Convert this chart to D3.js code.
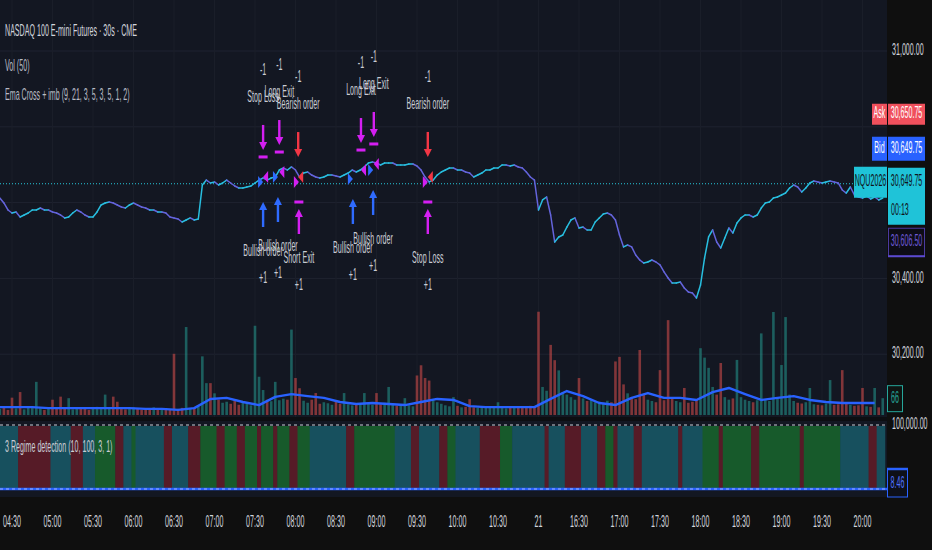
<!DOCTYPE html>
<html>
<head>
<meta charset="utf-8">
<script src="https://cdn.jsdelivr.net/npm/d3@7"></script>
<style>
  body { margin: 0; background: #0f0f0f; overflow: hidden; }
  svg { display: block; }
  text { font-family: "Liberation Sans", Arial, sans-serif; }
</style>
</head>
<body>
<div id="chart"></div>
<script>
// ---- data (30s bars, one sample every 6 bars = 3 min) ----
var timeLabels = ["04:30","05:00","05:30","06:00","06:30","07:00","07:30","08:00","08:30","09:00","09:30","10:00",
  "10:30","21","16:30","17:00","17:30","18:00","18:30","19:00","19:30","20:00"];

var closes = [
  30612.00,30599.00,30580.50,30572.50,30575.25,30562.00,30567.25,30572.50,30580.50,30580.50,
  30585.75,30580.50,30580.50,30575.25,30572.50,30567.25,30559.50,30562.00,30572.50,30580.50,
  30575.25,30567.25,30562.00,30562.00,30575.25,30593.75,30599.00,30601.50,30599.00,30593.75,
  30588.50,30585.75,30593.75,30599.00,30593.75,30588.50,30585.75,30580.50,30580.50,30575.25,
  30575.25,30572.50,30562.00,30559.50,30556.75,30548.75,30554.00,30559.50,30554.00,30556.75,
  30646.50,30659.50,30651.75,30654.50,30646.50,30651.75,30659.50,30651.75,30643.75,30638.50,
  30638.50,30641.25,30643.75,30651.75,30659.50,30665.00,30659.50,30665.00,30667.50,30686.00,
  30691.25,30686.00,30694.00,30686.00,30667.50,30678.00,30680.75,30672.75,30667.50,30665.00,
  30667.50,30672.75,30672.75,30670.25,30667.50,30672.75,30678.00,30686.00,30680.75,30686.00,
  30694.00,30704.50,30707.00,30704.50,30699.25,30704.50,30704.50,30704.50,30699.25,30699.25,
  30699.25,30701.75,30701.75,30696.50,30686.00,30667.50,30654.50,30659.50,30672.75,30680.75,
  30686.00,30691.25,30691.25,30686.00,30686.00,30680.75,30678.00,30667.50,30672.75,30678.00,
  30686.00,30686.00,30691.25,30691.25,30699.25,30699.25,30696.50,30699.25,30694.00,30691.25,
  30680.75,30667.50,30659.50,30580.50,30607.00,30614.75,30567.25,30496.00,30509.25,30514.50,
  30535.50,30554.00,30559.50,30533.00,30535.50,30527.75,30527.75,30548.75,30559.50,30570.00,
  30572.50,30567.25,30554.00,30514.50,30483.00,30488.00,30483.00,30461.75,30448.50,30440.50,
  30443.25,30448.50,30443.25,30435.50,30417.00,30401.00,30388.00,30388.00,30390.50,30374.75,
  30364.00,30361.50,30348.25,30382.50,30453.75,30509.25,30527.75,30496.00,30480.25,30506.50,
  30533.00,30519.75,30546.25,30559.50,30567.25,30567.25,30562.00,30567.25,30585.75,30599.00,
  30601.50,30612.00,30614.75,30620.00,30625.25,30638.50,30646.50,30641.25,30628.00,30638.50,
  30651.75,30657.00,30654.50,30651.75,30654.50,30657.00,30654.50,30651.75,30633.25,30625.25,
  30641.25,30620.00,30614.75,30612.00,30617.50,30609.50,30614.75,30607.00,30612.00];

var volumes = [
  24,30,20,68,26,90,22,28,34,130, 26,20,30,60,24,72,28,66,22,26,
  30,24,20,28,32,26,80,30,72,52, 26,22,28,30,24,20,26,22,30,24,
  20,26,22,240,24,28,345,26,30,34, 230,125,125,85,60,48,52,44,56,40,
  50,46,38,350,150,98,60,54,130,58, 64,60,335,145,105,56,48,60,86,44,
  50,46,40,52,44,86,42,38,46,40, 86,44,40,86,42,48,110,40,36,42,
  66,38,34,155,195,145,135,60,50,44, 38,34,70,36,30,32,62,30,28,34,
  32,30,28,50,30,26,32,30,28,34, 30,36,32,405,110,95,275,215,175,90,
  80,70,60,145,65,55,60,50,52,48, 56,50,210,228,120,85,70,62,255,80,
  60,55,50,176,58,372,70,55,50,106, 48,52,60,262,225,185,110,80,204,70,
  60,65,216,70,60,55,50,58,320,60, 55,404,70,196,384,80,55,48,45,50,
  106,42,40,38,45,137,40,42,176,48, 40,36,38,106,34,32,106,30,66];

// volume MA, one value every 4 samples
var volMA = [31,31,31,27,27,27,27,27,27,24, 24,20,27,63,67,51,39,71,82,74,
  67,51,43,47,43,39,51,63,59,35, 31,31,31,31,63,94,74,47,39,67,
  86,67,67,59,90,106,82,59,67,74, 59,51,47,47,47];

// regime runs: first sample of each run, state 0 = neutral, 1 = bear, 2 = bull
var regimeStart = [0,5,13,18,21,24,29,31,33,34,41,43,47,50,54,56,59,61,64,65,68,69,72,74,77,86,88,98,
  102,104,109,111,113,119,124,127,135,136,140,144,148,150,152,153,157,159,168,169,174,178,179,186,188,198,199,208,215,217];
var regimeState = [0,1,0,1,0,2,1,0,2,0,1,0,1,2,1,2,1,2,1,2,1,2,1,2,0,1,2,0,
  1,0,1,2,0,1,2,0,1,0,1,0,1,2,1,0,1,0,1,0,2,1,2,1,2,1,2,0,1,0];

// strategy orders
var sigBar   = [372, 396, 424, 517, 536, 616, 372, 394, 425, 505, 535, 616];
var sigPrice = [30683.50, 30696.50, 30683.25, 30701.75, 30717.75, 30683.50,
                30638.50, 30651.75, 30638.50, 30646.50, 30670.25, 30638.50];
var sigName  = ["Stop Loss","Long Exit","Bearish order","Long Exit","Long Exit","Bearish order",
                "Bullish order","Bullish order","Short Exit","Bullish order","Bullish order","Stop Loss"];
var sigSide  = ["sell","sell","sell","sell","sell","sell","buy","buy","buy","buy","buy","buy"];

var priceGrid = [31000, 30800, 30600, 30400, 30200];
var priceTickLabels = [31000, 30400, 30200];
var lastPrice = 30649.75, askPrice = 30650.75, bidPrice = 30649.75, emaPrice = 30606.50;
var lastVolume = 66, regimeValue = 8.46;

// ---- layout ----
var W = 932, H = 550, plotR = 887;
var FS = "16px";
var fmt = d3.format(",.2f");

var svg = d3.select("#chart").append("svg").attr("width", W).attr("height", H);
svg.append("rect").attr("width", W).attr("height", H).attr("fill", "#0f0f0f");
svg.append("rect").attr("x", 0).attr("y", 0).attr("width", plotR).attr("height", 417).attr("fill", "#131722");
svg.append("rect").attr("x", 0).attr("y", 421).attr("width", plotR).attr("height", 76).attr("fill", "#131722");

// the screenshot text is tall and narrow: squeeze it horizontally
var probe = svg.append("text").attr("font-size", FS).text("NASDAQ 100 E-mini Futures · 30s · CME");
var SX = 132 / probe.node().getComputedTextLength();
probe.remove();

function label(parent, x0, y0, str, fill, anchor) {
  var g = parent.append("g").attr("transform", "translate(" + x0 + "," + y0 + ") scale(" + SX + ",1)");
  g.append("text").attr("text-anchor", anchor || "start").attr("dominant-baseline", "middle")
    .attr("font-size", FS).attr("fill", fill).text(str);
  return g;
}

var x = d3.scaleLinear().domain([0, 1260]).range([12, 862.5]);
var y = d3.scaleLinear().domain([30200, 31000]).range([354.2, 51]);
var vy = d3.scaleLinear().domain([0, 400]).range([415, 313]);
var barOf = function(i) { return -18 + 6 * i; };
var step = x(6) - x(0);

// grid
svg.append("g").selectAll("line").data(priceGrid).enter().append("line")
  .attr("x1", 0).attr("x2", plotR).attr("y1", function(d){ return y(d); }).attr("y2", function(d){ return y(d); })
  .attr("stroke", "#1f2330").attr("stroke-width", 1);
svg.append("g").selectAll("line").data(timeLabels).enter().append("line")
  .attr("x1", function(d,i){ return x(i*60); }).attr("x2", function(d,i){ return x(i*60); })
  .attr("y1", 0).attr("y2", 417).attr("stroke", "#1a1e29").attr("stroke-width", 1);

// volume bars
svg.append("g").selectAll("rect").data(volumes).enter().append("rect")
  .attr("x", function(d,i){ return x(barOf(i)) - 1.3; })
  .attr("width", 2.6)
  .attr("y", function(d){ return vy(d); })
  .attr("height", function(d){ return vy(0) - vy(d); })
  .attr("fill", function(d,i){ return (i === 0 || closes[i] >= closes[i-1]) ? "#26a69a" : "#ef5350"; })
  .attr("opacity", 0.5);

// volume MA
var maLine = d3.line().x(function(d,k){ return x(barOf(k*4)); }).y(function(d){ return vy(d); });
svg.append("path").datum(volMA).attr("d", maLine).attr("fill", "none")
  .attr("stroke", "#2962ff").attr("stroke-width", 2.4).attr("stroke-linejoin", "round");

// last price dotted line
svg.append("line").attr("x1", 0).attr("x2", plotR).attr("y1", y(lastPrice)).attr("y2", y(lastPrice))
  .attr("stroke", "#26c6da").attr("stroke-width", 1).attr("stroke-dasharray", "1,2");

// price line, coloured by direction
svg.append("g").selectAll("line").data(d3.range(1, closes.length)).enter().append("line")
  .attr("x1", function(i){ return x(barOf(i-1)); }).attr("y1", function(i){ return y(closes[i-1]); })
  .attr("x2", function(i){ return x(barOf(i)); }).attr("y2", function(i){ return y(closes[i]); })
  .attr("stroke", function(i){ return closes[i] >= closes[i-1] ? "#28bfe0" : "#6464dc"; })
  .attr("stroke-width", 1.5).attr("stroke-linecap", "round");

// orders
var cBlue = "#2f6bff", cMag = "#d41ff2", cRed = "#f23645", cTxt = "#c9ccd4";
var sigs = sigBar.map(function(b,i){ return {bar:b, price:sigPrice[i], name:sigName[i], side:sigSide[i],
  exit: sigName[i].indexOf("order") < 0}; });
var gS = svg.append("g");
sigs.forEach(function(s){
  var cx = x(s.bar), py = y(s.price);
  var col = s.exit ? cMag : (s.side === "buy" ? cBlue : cRed);
  // small flag on the price
  var fy = s.side === "buy" ? py - 6 : py + 6;
  var fp = s.side === "buy"
    ? [[cx-5, fy-6],[cx, fy],[cx-5, fy+6]]
    : [[cx+5, fy-6],[cx, fy],[cx+5, fy+6]];
  gS.append("path").attr("d", "M" + fp.join("L") + "Z").attr("fill", col);
  var len = 25, tip, far, lab, qty;
  if (s.side === "sell") {
    var T = py - 14;
    tip = s.exit ? T - 7 : T;
    far = tip - len;
    if (s.exit) gS.append("rect").attr("x", cx-4.5).attr("y", T-1.5).attr("width", 9).attr("height", 3).attr("fill", col);
    gS.append("rect").attr("x", cx-1.2).attr("y", far).attr("width", 2.4).attr("height", len-6).attr("fill", col);
    gS.append("path").attr("d", "M"+(cx-4)+","+(tip-8)+"L"+(cx+4)+","+(tip-8)+"L"+cx+","+tip+"Z").attr("fill", col);
    lab = far - 27; qty = far - 54;
  } else {
    var T2 = py + 14;
    tip = s.exit ? T2 + 7 : T2;
    far = tip + len;
    if (s.exit) gS.append("rect").attr("x", cx-4.5).attr("y", T2-1.5).attr("width", 9).attr("height", 3).attr("fill", col);
    gS.append("rect").attr("x", cx-1.2).attr("y", tip+6).attr("width", 2.4).attr("height", len-6).attr("fill", col);
    gS.append("path").attr("d", "M"+(cx-4)+","+(tip+8)+"L"+(cx+4)+","+(tip+8)+"L"+cx+","+tip+"Z").attr("fill", col);
    lab = far + 25; qty = far + 52;
  }
  label(gS, cx, lab, s.name, cTxt, "middle");
  label(gS, cx, qty, s.side === "sell" ? "-1" : "+1", cTxt, "middle");
});

// separator between panes
svg.append("rect").attr("x", 0).attr("y", 417).attr("width", plotR).attr("height", 4).attr("fill", "#0d0e12");

// regime pane
var regColor = ["#17505e", "#561b27", "#175a2b"];
svg.append("g").selectAll("rect").data(regimeStart).enter().append("rect")
  .attr("x", function(d){ return Math.max(0, x(barOf(d)) - step/2); })
  .attr("width", function(d,i){
    var end = i + 1 < regimeStart.length ? regimeStart[i+1] : closes.length;
    var x0 = Math.max(0, x(barOf(d)) - step/2);
    return Math.min(plotR, x(barOf(end)) - step/2) - x0 + 0.5; })
  .attr("y", 426).attr("height", 63)
  .attr("fill", function(d,i){ return regColor[regimeState[i]]; });
svg.append("line").attr("x1", 0).attr("x2", plotR).attr("y1", 425).attr("y2", 425)
  .attr("stroke", "#8f939c").attr("stroke-width", 1.5).attr("stroke-dasharray", "3,3");
svg.append("line").attr("x1", 0).attr("x2", plotR).attr("y1", 489).attr("y2", 489)
  .attr("stroke", "#2962ff").attr("stroke-width", 2.5);
svg.append("line").attr("x1", 0).attr("x2", plotR).attr("y1", 489).attr("y2", 489)
  .attr("stroke", "#9fb3ff").attr("stroke-width", 1).attr("stroke-dasharray", "3,3");
label(svg, 5, 448, "3 Regime detection (10, 100, 3, 1)", "#c9ccd4");

// legend
label(svg, 5, 32, "NASDAQ 100 E-mini Futures · 30s · CME", "#d1d4dc");
label(svg, 5, 67, "Vol (50)", "#b8bbc4");
label(svg, 5, 96, "Ema Cross + imb (9, 21, 3, 5, 3, 5, 1, 2)", "#b8bbc4");

// time axis
timeLabels.forEach(function(t, i){ label(svg, x(i*60), 523, t, "#d1d4dc", "middle"); });

// price axis
priceTickLabels.forEach(function(p){ label(svg, 892, y(p), fmt(p), "#d1d4dc"); });
label(svg, 892, 425, fmt(100000), "#d1d4dc");

// price badges
var yl = y(lastPrice);
function badge(x0, y0, w, h, fill, txt, tcol) {
  svg.append("rect").attr("x", x0).attr("y", y0).attr("width", w).attr("height", h).attr("fill", fill);
  if (txt) label(svg, x0 + w/2, y0 + h/2, txt, tcol, "middle");
}
badge(872, yl - 80, 15, 21, "#f0505c", "Ask", "#ffffff");
badge(888, yl - 80, 37, 21, "#f0505c", fmt(askPrice), "#ffffff");
badge(872, yl - 47, 15, 24, "#2962ff", "Bid", "#ffffff");
badge(888, yl - 47, 37, 24, "#2962ff", fmt(bidPrice), "#ffffff");
badge(854, yl - 17, 33, 31, "#1fc3d8", "NQU2026", "#10131a");
badge(888, yl - 16, 37, 57, "#1fc3d8", null, null);
label(svg, 906.5, yl - 2, fmt(lastPrice), "#10131a", "middle");
label(svg, 891, yl + 27, "00:13", "#10131a");
svg.append("rect").attr("x", 888.5).attr("y", yl + 44.5).attr("width", 36).attr("height", 28)
  .attr("fill", "#0d0c16").attr("stroke", "#4b3aa0").attr("stroke-width", 1);
svg.append("line").attr("x1", 888).attr("x2", 925).attr("y1", yl + 72.5).attr("y2", yl + 72.5)
  .attr("stroke", "#5b4ad0").attr("stroke-width", 2);
label(svg, 906.5, yl + 58.5, fmt(emaPrice), "#6e5ad8", "middle");

// volume badge
var yv = vy(lastVolume);
svg.append("rect").attr("x", 887.5).attr("y", yv - 12.5).attr("width", 15).attr("height", 26)
  .attr("fill", "#0f1412").attr("stroke", "#26a69a").attr("stroke-width", 1);
label(svg, 895, yv + 1, String(lastVolume), "#26a69a", "middle");

// regime badge
svg.append("rect").attr("x", 887.5).attr("y", 469).attr("width", 20).attr("height", 28)
  .attr("fill", "#0e1018").attr("stroke", "#2962ff").attr("stroke-width", 1);
svg.append("line").attr("x1", 887).attr("x2", 908).attr("y1", 469).attr("y2", 469)
  .attr("stroke", "#2962ff").attr("stroke-width", 2.5);
label(svg, 897.5, 484, regimeValue.toFixed(2), "#4f74ff", "middle");
</script>
</body>
</html>
